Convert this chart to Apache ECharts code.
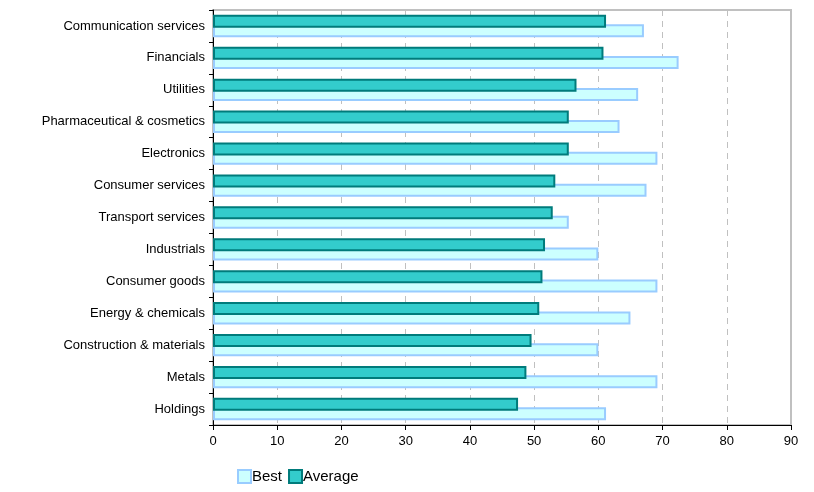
<!DOCTYPE html>
<html>
<head>
<meta charset="utf-8">
<script src="https://cdn.jsdelivr.net/npm/echarts@6/dist/echarts.min.js"></script>
<style>
  html, body { margin: 0; padding: 0; background: #fff; }
  #main { width: 814px; height: 492px; }
</style>
</head>
<body>
<div id="main"></div>
<script>
// categories, top to bottom
const categories = [
  'Communication services', 'Financials', 'Utilities', 'Pharmaceutical & cosmetics',
  'Electronics', 'Consumer services', 'Transport services', 'Industrials',
  'Consumer goods', 'Energy & chemicals', 'Construction & materials', 'Metals', 'Holdings'
]
const bestValues = [67.1, 72.5, 66.2, 63.3, 69.2, 67.5, 55.4, 60.0, 69.2, 65.0, 60.0, 69.2, 61.2]
const averageValues = [61.2, 60.8, 56.6, 55.4, 55.4, 53.3, 52.9, 51.7, 51.3, 50.8, 49.6, 48.8, 47.5]
const xTicks = { min: 0, max: 90, interval: 10 }

const chart = echarts.init(document.getElementById('main'))
const font = 'Liberation Sans, Arial, sans-serif'

const option = {
  backgroundColor: '#ffffff',
  animation: false,
  textStyle: { fontFamily: font },
  legend: {
    data: ['Best', 'Average'],
    left: 232,
    top: 464,
    itemWidth: 13,
    itemHeight: 13,
    itemGap: 6,
    icon: 'rect',
    textStyle: { fontSize: 15, color: '#000', padding: [0, 0, 0, -4] }
  },
  grid: {
    left: 213,
    right: 23,
    top: 10,
    bottom: 67,
    show: true,
    borderColor: '#c0c0c0',
    borderWidth: 2
  },
  xAxis: {
    type: 'value',
    min: xTicks.min,
    max: xTicks.max,
    interval: xTicks.interval,
    axisLine: { show: true, lineStyle: { color: '#000', width: 1 } },
    axisTick: { show: true, length: 5, lineStyle: { color: '#000' } },
    axisLabel: { fontSize: 13, color: '#000', margin: 10 },
    splitLine: { show: true, lineStyle: { color: '#c0c0c0', type: [6, 5], width: 1 } }
  },
  yAxis: {
    type: 'category',
    inverse: true,
    data: categories,
    axisLine: { show: true, lineStyle: { color: '#000', width: 1 } },
    axisTick: { show: true, length: 4, lineStyle: { color: '#000' } },
    axisLabel: { fontSize: 13, color: '#000', margin: 8 }
  },
  series: [
    {
      // listed first so it sits above Best in each pair; drawn on top via z
      name: 'Average',
      type: 'bar',
      data: averageValues,
      barWidth: 13,
      barGap: '-28%',
      z: 3,
      itemStyle: { color: '#33cccc', borderColor: '#007b7b', borderWidth: 2 }
    },
    {
      name: 'Best',
      type: 'bar',
      data: bestValues,
      barWidth: 13,
      z: 2,
      itemStyle: { color: '#ccffff', borderColor: '#99ccff', borderWidth: 2 }
    }
  ]
}
option && chart.setOption(option)
</script>
</body>
</html>
